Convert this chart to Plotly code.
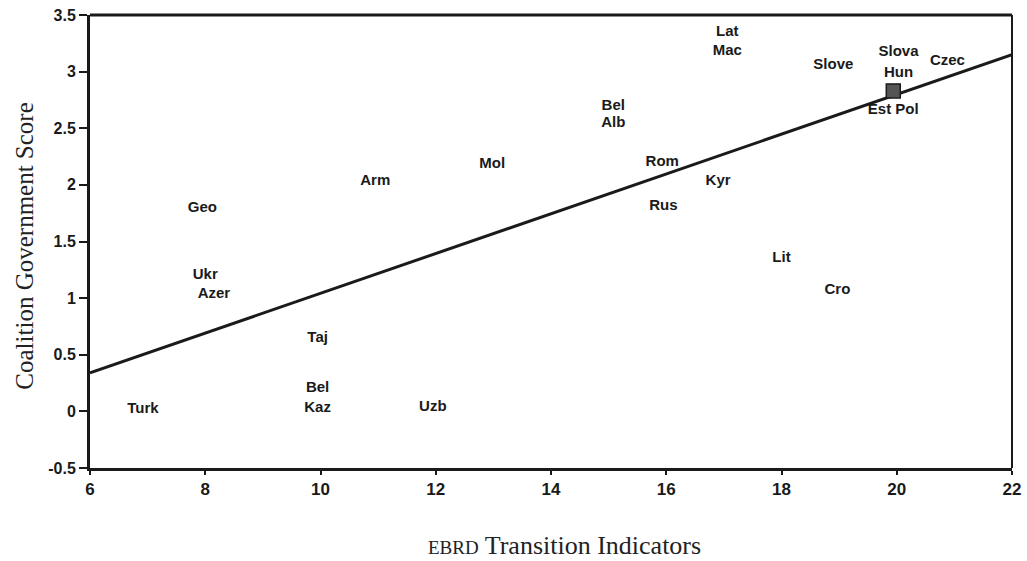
import plotly.graph_objects as go

# Country labels and their positions (EBRD transition indicator, coalition government score)
countries = ["Geo", "Ukr", "Azer", "Taj", "Bel", "Kaz", "Turk", "Uzb",
             "Arm", "Mol", "Bel", "Alb", "Rom", "Rus", "Kyr",
             "Lat", "Mac", "Slove", "Slova", "Hun", "Czec", "Est Pol", "Lit", "Cro"]
ebrd = [7.95, 8.0, 8.15, 9.95, 9.95, 9.95, 6.92, 11.95,
        10.95, 12.98, 15.08, 15.08, 15.93, 15.95, 16.9,
        17.06, 17.06, 18.9, 20.03, 20.03, 20.88, 19.94, 18.0, 18.97]
coalition = [1.79, 1.2, 1.03, 0.65, 0.2, 0.03, 0.02, 0.04,
             2.03, 2.18, 2.69, 2.54, 2.2, 1.81, 2.03,
             3.35, 3.18, 3.06, 3.17, 2.99, 3.09, 2.66, 1.35, 1.07]

# Overlapping point marker
square_x = [19.94]
square_y = [2.83]

# Fitted regression line
fit_x = [6, 22]
fit_y = [0.34, 3.15]

x_ticks = [6, 8, 10, 12, 14, 16, 18, 20, 22]
y_ticks = [-0.5, 0, 0.5, 1, 1.5, 2, 2.5, 3, 3.5]
y_tick_text = ["-0.5", "0", "0.5", "1", "1.5", "2", "2.5", "3", "3.5"]

sans = "Liberation Sans Narrow, Arial Narrow, Liberation Sans, Arial, sans-serif"
serif = "Liberation Serif, Times New Roman, serif"
ink = "#1a1a1a"

fig = go.Figure()
fig.add_trace(go.Scatter(x=fit_x, y=fit_y, mode="lines",
                         line=dict(color=ink, width=3),
                         hoverinfo="skip", showlegend=False))
fig.add_trace(go.Scatter(x=ebrd, y=coalition, mode="text",
                         text=["<b>%s</b>" % c for c in countries],
                         textfont=dict(family=sans, size=15, color=ink),
                         textposition="middle center", showlegend=False))
fig.add_trace(go.Scatter(x=square_x, y=square_y, mode="markers",
                         marker=dict(symbol="square", size=14, color="#555555",
                                     line=dict(color=ink, width=1.5)),
                         showlegend=False))

fig.update_layout(
    width=1027, height=561,
    margin=dict(l=90, r=15, t=15, b=93, autoexpand=False),
    paper_bgcolor="white", plot_bgcolor="white",
    xaxis=dict(range=[6, 22], tickvals=x_ticks, ticktext=["<b>%d</b>" % v for v in x_ticks],
               automargin=False,
               showline=True, linecolor=ink, linewidth=3,
               ticks="outside", ticklen=4, tickwidth=1.5, tickcolor=ink,
               showgrid=False, zeroline=False,
               tickfont=dict(family=sans, size=17, color=ink)),
    yaxis=dict(range=[-0.5, 3.5], tickvals=y_ticks, ticktext=["<b>%s</b>" % t for t in y_tick_text],
               automargin=False,
               showline=True, linecolor=ink, linewidth=3,
               ticks="outside", ticklen=8, tickwidth=1.5, tickcolor=ink,
               showgrid=False, zeroline=False,
               tickfont=dict(family=sans, size=16, color=ink)),
    shapes=[
        dict(type="line", xref="paper", yref="paper", x0=0, x1=1, y0=1, y1=1,
             line=dict(color=ink, width=3)),
        dict(type="line", xref="paper", yref="paper", x0=1, x1=1, y0=0, y1=1,
             line=dict(color=ink, width=2)),
    ],
    annotations=[
        dict(text="Coalition Government Score", xref="paper", yref="paper",
             x=-0.072, y=0.49, xanchor="center", yanchor="middle",
             textangle=-90, showarrow=False,
             font=dict(family=serif, size=25, color="#222222")),
        dict(text="<span style='font-size:19px'>EBRD</span> Transition Indicators",
             xref="paper", yref="paper", x=0.515, y=-0.17, xanchor="center", yanchor="middle",
             showarrow=False,
             font=dict(family=serif, size=26, color="#222222")),
    ],
)

fig.write_html(
    "out.html",
    config={"displayModeBar": False},
    post_script=(
        "document.body.style.margin='0';"
        "document.body.style.overflow='hidden';"
        "document.documentElement.style.overflow='hidden';"
    ),
)
